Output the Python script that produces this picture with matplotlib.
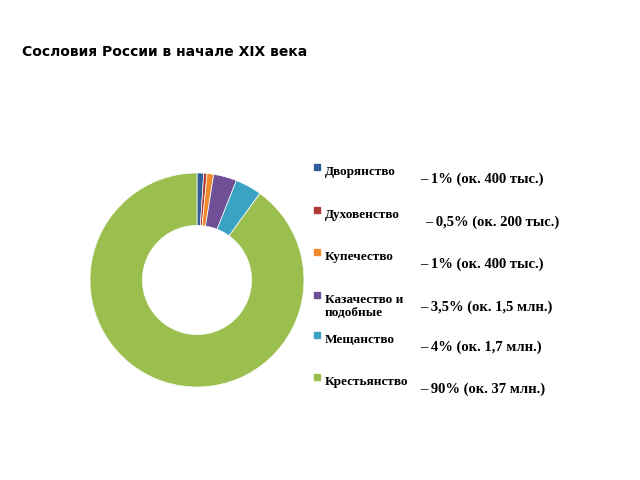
import matplotlib.pyplot as plt

# Estates of Russia, early XIX century
labels = ['Дворянство', 'Духовенство', 'Купечество', 'Казачество и\nподобные', 'Мещанство', 'Крестьянство']
shares = [1, 0.5, 1, 3.5, 4, 90]
notes = ['– 1% (ок. 400 тыс.)', '– 0,5% (ок. 200 тыс.)', '– 1% (ок. 400 тыс.)',
         '– 3,5% (ок. 1,5 млн.)', '– 4% (ок. 1,7 млн.)', '– 90% (ок. 37 млн.)']
colors = ['#2f5f9a', '#b03a37', '#f08a2c', '#6f4f96', '#3aa3c4', '#9bbf4f']

W, H = 640, 480
fig = plt.figure(figsize=(6.4, 4.8), dpi=100)

fig.text(22 / W, 1 - 52 / H, 'Сословия России в начале XIX века',
         fontsize=10, fontweight='bold', va='center', family='DejaVu Sans')

# donut centred at about (197, 280) px, outer radius ~107 px
ax = fig.add_axes([90 / W, 1 - 387 / H, 214 / W, 214 / H])
ax.pie(shares, colors=colors, startangle=90, counterclock=False,
       wedgeprops=dict(width=0.49, edgecolor='white', linewidth=0.5))
ax.set_xlim(-1, 1)
ax.set_ylim(-1, 1)
ax.set_aspect('equal')

label_y = [166, 209, 251, 294, 334, 376]
note_x = [420, 425, 420, 420, 420, 420]
for lab, note, col, py, nx in zip(labels, notes, colors, label_y, note_x):
    fig.patches.append(plt.Rectangle((314 / W, 1 - (py + 4) / H), 6 / W, 6 / H,
                                     transform=fig.transFigure, color=col))
    fig.text(325 / W, 1 - py / H, lab, fontsize=9.5, fontweight='bold',
             family='Liberation Serif', va='top', linespacing=1.1)
    fig.text(nx / W, 1 - (py + 13) / H, note, fontsize=10.5, fontweight='bold',
             family='Liberation Serif', va='center')

fig.savefig('out.png', dpi=100, facecolor='white')
